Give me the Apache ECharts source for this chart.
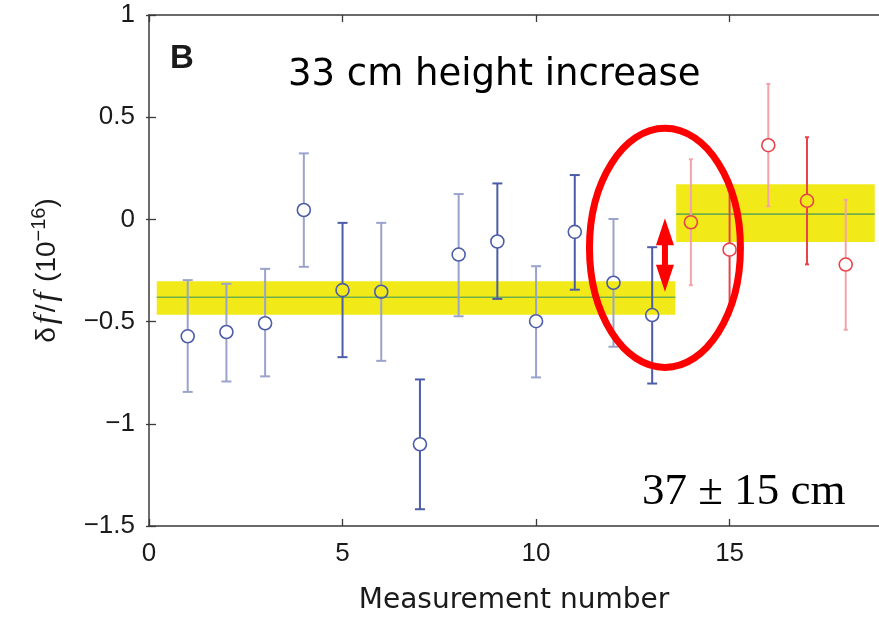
<!DOCTYPE html>
<html>
<head>
<meta charset="utf-8">
<script src="https://cdn.jsdelivr.net/npm/echarts@6/dist/echarts.min.js"></script>
<style>
  html, body { margin: 0; padding: 0; background: #fff; }
  #chart { width: 879px; height: 620px; }
</style>
</head>
<body>
<div id="chart"></div>
<script>
// before the height change (blue) and after it (red)
const blueX = [1, 2, 3, 4, 5, 6, 7, 8, 9, 10, 11, 12, 13];
const blueVal = [-0.572, -0.551, -0.508, 0.046, -0.346, -0.354, -1.10, -0.172, -0.108, -0.498, -0.061, -0.310, -0.468];
const blueLow = [-0.844, -0.793, -0.768, -0.232, -0.674, -0.692, -1.418, -0.474, -0.389, -0.773, -0.344, -0.623, -0.803];
const blueHigh = [-0.297, -0.315, -0.242, 0.323, -0.017, -0.017, -0.783, 0.124, 0.176, -0.229, 0.217, 0.002, -0.136];

const redX = [14, 15, 16, 17, 18];
const redVal = [-0.014, -0.148, 0.363, 0.091, -0.221];
const redLow = [-0.322, -0.44, 0.064, -0.220, -0.540];
const redHigh = [0.294, 0.14, 0.663, 0.402, 0.096];

// mean +- error bands
const bandStart = [0.2, 13.62];
const bandEnd = [13.6, 18.75];
const bandMean = [-0.381, 0.026];
const bandTop = [-0.302, 0.172];
const bandBottom = [-0.467, -0.111];

// highlight ellipse [cx, cy, rx, ry] and the double arrow [x, top, bottom]
const ringShape = [13.33, -0.139, 1.95, 0.585];
const arrowShape = [13.33, 0.006, -0.354];

const xTicks = [0, 5, 10, 15];

const zip = (...cols) => cols[0].map((_, i) => cols.map(c => c[i]));

const errorBars = (dark, light, capHalf) => (params, api) => {
  const x = api.value(0);
  const c = api.coord([x, api.value(1)]);
  const lo = api.coord([x, api.value(2)]);
  const hi = api.coord([x, api.value(3)]);
  const stroke = x >= 5 && x % 2 === 1 ? dark : light;
  const r = 6.5;
  const ls = { stroke: stroke, lineWidth: 2 };
  return {
    type: "group",
    children: [
      { type: "line", shape: { x1: c[0], y1: hi[1], x2: c[0], y2: c[1] - r }, style: ls },
      { type: "line", shape: { x1: c[0], y1: c[1] + r, x2: c[0], y2: lo[1] }, style: ls },
      { type: "line", shape: { x1: c[0] - capHalf, y1: hi[1], x2: c[0] + capHalf, y2: hi[1] }, style: ls },
      { type: "line", shape: { x1: c[0] - capHalf, y1: lo[1], x2: c[0] + capHalf, y2: lo[1] }, style: ls },
      { type: "circle", shape: { cx: c[0], cy: c[1], r: r }, style: { fill: "none", stroke: dark, lineWidth: 1.6 } }
    ]
  };
};

const chart = echarts.init(document.getElementById("chart"), null, { renderer: "canvas" });

const axisLine = { show: true, onZero: false, lineStyle: { color: "#3a3a3a", width: 1.5 } };
const axisTick = { show: true, inside: true, length: 7, lineStyle: { color: "#3a3a3a", width: 1.3 } };
const tickFont = { fontFamily: "Liberation Sans", fontSize: 26, color: "#1a1a1a" };

// the plot box runs a little past the right edge of the picture
const xMax = 18.86;

const option = {
  animation: false,
  grid: { left: 149, top: 15, right: 0, bottom: 91 },
  xAxis: [
    {
      type: "value", min: 0, max: xMax, interval: 5,
      axisLine: axisLine, splitLine: { show: false },
      axisLabel: Object.assign({ margin: 15, customValues: xTicks }, tickFont),
      axisTick: Object.assign({ customValues: xTicks }, axisTick),
      name: "Measurement number",
      nameLocation: "middle",
      nameGap: 61,
      nameTextStyle: { fontFamily: "DejaVu Sans", fontSize: 28, color: "#1a1a1a" }
    },
    {
      type: "value", position: "top", min: 0, max: xMax, interval: 5,
      axisLine: axisLine, axisTick: Object.assign({ customValues: xTicks }, axisTick),
      axisLabel: { show: false }, splitLine: { show: false }
    }
  ],
  yAxis: [
    {
      type: "value", min: -1.5, max: 1, interval: 0.5,
      axisLine: axisLine, axisTick: axisTick, splitLine: { show: false },
      axisLabel: Object.assign({
        margin: 14,
        formatter: v => String(v).replace("-", "\u2212")
      }, tickFont),
      name: "{a|\u03b4}{i|f}{a|/}{i|f}{a| (10}{s|\u221216}{a|)}",
      nameLocation: "middle",
      nameRotate: 90,
      nameGap: 84,
      nameTextStyle: {
        rich: {
          a: { fontFamily: "Liberation Sans", fontSize: 28, color: "#1a1a1a", lineHeight: 36 },
          i: { fontFamily: "Liberation Serif", fontStyle: "italic", fontSize: 32, color: "#1a1a1a", lineHeight: 36, padding: [0, 3, 0, 3] },
          s: { fontFamily: "Liberation Sans", fontSize: 20, color: "#1a1a1a", lineHeight: 36, verticalAlign: "top" }
        }
      }
    },
    {
      type: "value", position: "right", min: -1.5, max: 1, interval: 0.5,
      axisLine: { show: false },
      axisTick: { show: true, inside: true, length: 3, lineStyle: { color: "#3a3a3a", width: 1.3 } },
      axisLabel: { show: false }, splitLine: { show: false }
    }
  ],
  series: [
    {
      type: "custom",
      data: zip(bandStart, bandEnd, bandMean, bandTop, bandBottom),
      encode: { x: [0, 1], y: [2, 3, 4] },
      z: 1,
      renderItem: (params, api) => {
        const p0 = api.coord([api.value(0), api.value(3)]);
        const p1 = api.coord([api.value(1), api.value(4)]);
        const m0 = api.coord([api.value(0), api.value(2)]);
        const m1 = api.coord([api.value(1), api.value(2)]);
        return {
          type: "group",
          children: [
            { type: "rect", shape: { x: p0[0], y: p0[1], width: p1[0] - p0[0], height: p1[1] - p0[1] }, style: { fill: "#f2ea18" } },
            { type: "line", shape: { x1: m0[0], y1: m0[1], x2: m1[0], y2: m1[1] }, style: { stroke: "#6fb04a", lineWidth: 1.6 } }
          ]
        };
      }
    },
    {
      type: "custom",
      data: zip(blueX, blueVal, blueLow, blueHigh),
      encode: { x: 0, y: [1, 2, 3] },
      z: 2,
      renderItem: errorBars("#4c5ca8", "#9aa3cb", 5)
    },
    {
      type: "custom",
      data: zip(redX, redVal, redLow, redHigh),
      encode: { x: 0, y: [1, 2, 3] },
      z: 2,
      renderItem: errorBars("#e8434b", "#f3a3aa", 2)
    },
    {
      type: "custom",
      data: [ringShape],
      encode: { x: 0, y: 1 },
      z: 5,
      renderItem: (params, api) => {
        const c = api.coord([api.value(0), api.value(1)]);
        const s = api.size([api.value(2), api.value(3)]);
        return {
          type: "ellipse",
          shape: { cx: c[0], cy: c[1], rx: s[0], ry: s[1] },
          style: { fill: "none", stroke: "#ff0000", lineWidth: 7 }
        };
      }
    },
    {
      type: "custom",
      data: [arrowShape],
      encode: { x: 0, y: [1, 2] },
      z: 5,
      renderItem: (params, api) => {
        const t = api.coord([api.value(0), api.value(1)]);
        const b = api.coord([api.value(0), api.value(2)]);
        const x = t[0], head = 27, hw = 9, sw = 3;
        return {
          type: "polygon",
          shape: {
            points: [
              [x, t[1]], [x + hw, t[1] + head], [x + sw, t[1] + head],
              [x + sw, b[1] - head], [x + hw, b[1] - head], [x, b[1]],
              [x - hw, b[1] - head], [x - sw, b[1] - head], [x - sw, t[1] + head],
              [x - hw, t[1] + head]
            ]
          },
          style: { fill: "#ff0000" }
        };
      }
    }
  ],
  graphic: [
    {
      type: "text", x: 170, y: 59, z: 10,
      style: { text: "B", font: "bold 33px 'Liberation Sans'", fill: "#1a1a1a", verticalAlign: "middle" }
    },
    {
      type: "text", x: 288, y: 75, z: 10,
      style: { text: "33 cm height increase", font: "37px 'DejaVu Sans'", fill: "#000", verticalAlign: "middle" }
    },
    {
      type: "text", x: 642, y: 492, z: 10,
      style: { text: "37 \u00b1 15 cm", font: "45px 'Liberation Serif'", fill: "#000", verticalAlign: "middle" }
    }
  ]
};

chart.setOption(option);
</script>
</body>
</html>
